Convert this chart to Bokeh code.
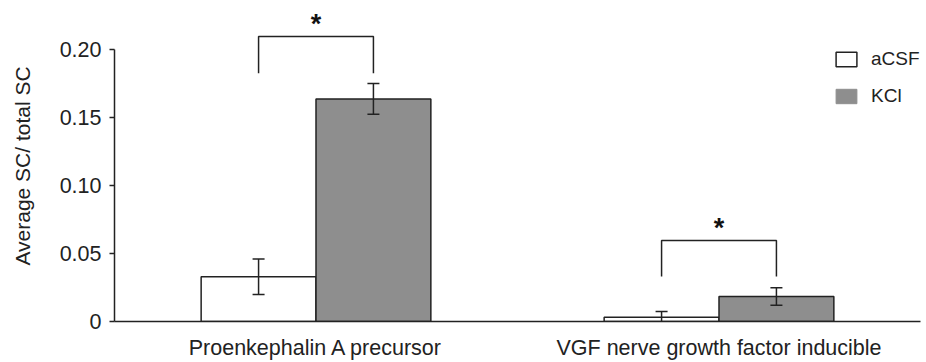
from bokeh.plotting import figure
from bokeh.models import (ColumnDataSource, Whisker, TeeHead, FixedTicker, Range1d,
                          Legend, LegendItem)
from bokeh.core.properties import value
from bokeh.embed import file_html
from bokeh.resources import INLINE

# ---- data ----
categories = ["Proenkephalin A precursor", "VGF nerve growth factor inducible"]
group_pos = [0.5, 1.5]
acsf_mean = [0.0329, 0.0032]
acsf_err = [0.0130, 0.0042]
kcl_mean = [0.1637, 0.0184]
kcl_err = [0.0113, 0.0064]
bracket_top = [0.2096, 0.0596]
bracket_leg = [0.1826, 0.0330]
sig_marks = ["*", "*"]
y_ticks = [0, 0.05, 0.10, 0.15, 0.20]
y_tick_labels = ["0", "0.05", "0.10", "0.15", "0.20"]

FONT = "Liberation Sans"
INK = "#222222"
GREY = "#8e8e8e"
BAR_W = 0.285
OFF = BAR_W / 2

acsf_x = [g - OFF for g in group_pos]
kcl_x = [g + OFF for g in group_pos]

src_a = ColumnDataSource(dict(x=acsf_x, top=acsf_mean,
                              upper=[m + e for m, e in zip(acsf_mean, acsf_err)],
                              lower=[m - e for m, e in zip(acsf_mean, acsf_err)]))
src_k = ColumnDataSource(dict(x=kcl_x, top=kcl_mean,
                              upper=[m + e for m, e in zip(kcl_mean, kcl_err)],
                              lower=[m - e for m, e in zip(kcl_mean, kcl_err)]))

p = figure(width=926, height=362, output_backend="svg", toolbar_location=None,
           x_range=Range1d(0, 2), y_range=Range1d(0, 0.2287),
           min_border_left=114, min_border_right=6, min_border_top=10,
           min_border_bottom=41)
p.outline_line_color = None
p.xgrid.grid_line_color = None
p.ygrid.grid_line_color = None
p.background_fill_color = "white"

ra = p.vbar(x="x", top="top", width=BAR_W, bottom=0, source=src_a,
            fill_color="white", line_color=INK, line_width=1.5)
rk = p.vbar(x="x", top="top", width=BAR_W, bottom=0, source=src_k,
            fill_color=GREY, line_color=INK, line_width=1.5)
# legend swatch for KCl (no dark outline, as in the original key); draws nothing in the plot
rk_key = p.vbar(x=[float("nan")], top=[float("nan")], width=BAR_W,
                fill_color=GREY, line_color=GREY)

for s in (src_a, src_k):
    w = Whisker(base="x", upper="upper", lower="lower", source=s,
                line_color=INK, line_width=1.5, level="overlay",
                upper_head=TeeHead(size=12, line_color=INK, line_width=1.5),
                lower_head=TeeHead(size=12, line_color=INK, line_width=1.5))
    p.add_layout(w)

# significance brackets
xs = [[a, a, k, k] for a, k in zip(acsf_x, kcl_x)]
ys = [[lg, tp, tp, lg] for lg, tp in zip(bracket_leg, bracket_top)]
p.multi_line(xs=xs, ys=ys, line_color=INK, line_width=1.5)
p.text(x=group_pos, y=bracket_top, text=sig_marks, text_font=value(FONT),
       text_font_style="bold", text_font_size="27px", text_color="#111111",
       text_align="center", text_baseline="alphabetic", y_offset=-12)

# axes
p.yaxis.ticker = FixedTicker(ticks=y_ticks)
p.yaxis.major_label_overrides = {t: l for t, l in zip(y_ticks, y_tick_labels)}
p.yaxis.bounds = (0, 0.2)
p.yaxis.axis_label = "Average SC/ total SC"
p.yaxis.axis_label_text_font = FONT
p.yaxis.axis_label_text_font_style = "normal"
p.yaxis.axis_label_text_font_size = "21px"
p.yaxis.axis_label_text_color = INK
p.yaxis.axis_label_standoff = 23
p.yaxis.major_label_text_font = FONT
p.yaxis.major_label_text_font_size = "21.5px"
p.yaxis.major_label_text_color = INK
p.yaxis.major_label_standoff = 8
p.yaxis.major_tick_out = 5
p.yaxis.major_tick_in = 0
p.yaxis.minor_tick_line_color = None
p.yaxis.axis_line_color = INK
p.yaxis.axis_line_width = 1.5
p.yaxis.major_tick_line_color = INK
p.yaxis.major_tick_line_width = 1.5

p.xaxis.ticker = FixedTicker(ticks=group_pos)
p.xaxis.major_label_overrides = {g: c for g, c in zip(group_pos, categories)}
p.xaxis.major_label_text_font = FONT
p.xaxis.major_label_text_font_size = "21.5px"
p.xaxis.major_label_text_color = INK
p.xaxis.major_tick_line_color = None
p.xaxis.minor_tick_line_color = None
p.xaxis.major_label_standoff = 8
p.xaxis.axis_line_color = INK
p.xaxis.axis_line_width = 1.5

legend = Legend(items=[LegendItem(label="aCSF", renderers=[ra]),
                       LegendItem(label="KCl", renderers=[rk_key])],
                location=(719, 214), orientation="vertical",
                border_line_color=None, background_fill_alpha=0,
                padding=0, margin=0, spacing=15, glyph_width=26, glyph_height=18,
                label_height=18, label_standoff=12,
                label_text_font=FONT, label_text_font_size="19px",
                label_text_color=INK)
p.add_layout(legend)

open("out.html", "w").write(file_html(p, INLINE))
